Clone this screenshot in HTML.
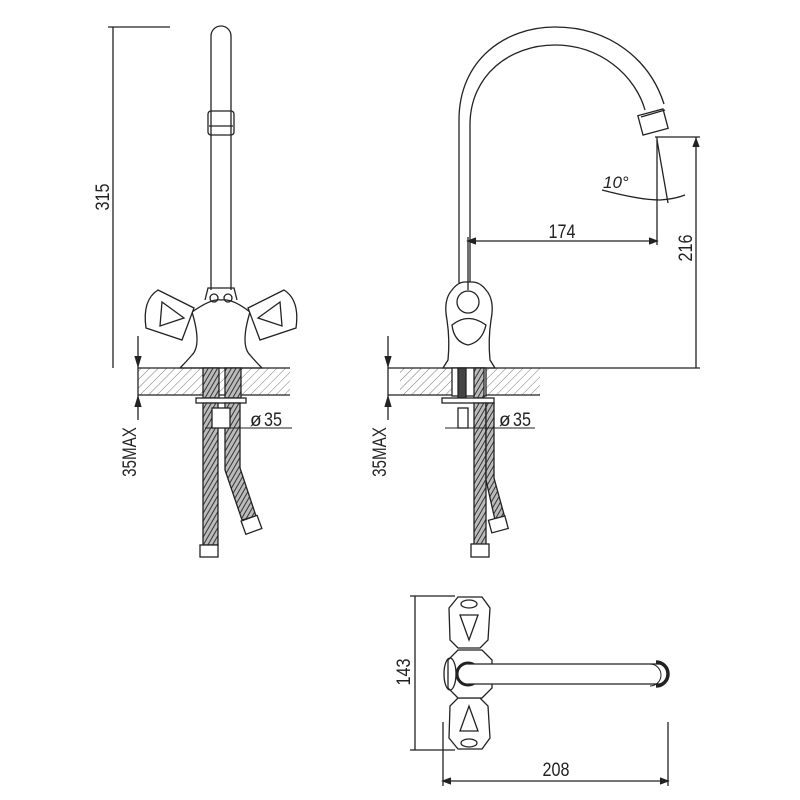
<!DOCTYPE html>
<html><head><meta charset="utf-8"><style>html,body{margin:0;padding:0;background:#fff}svg{display:block}text{font-family:"Liberation Sans",sans-serif;fill:#222}</style></head><body>
<svg width="800" height="800" viewBox="0 0 800 800" xmlns="http://www.w3.org/2000/svg">
<defs>
<pattern id="h" patternUnits="userSpaceOnUse" width="6" height="6" patternTransform="rotate(45)"><line x1="0" y1="0" x2="0" y2="6" stroke="#777" stroke-width="1"/></pattern>
<pattern id="braid" patternUnits="userSpaceOnUse" width="4" height="4" patternTransform="rotate(30)"><rect width="4" height="4" fill="#bbb"/><line x1="0" y1="0" x2="0" y2="4" stroke="#333" stroke-width="2"/></pattern>
</defs>
<g fill="none" stroke="#222" stroke-width="1.3">
<!-- LEFT VIEW -->
<line x1="108" y1="27" x2="170" y2="27"/>
<line x1="113" y1="27" x2="113" y2="368"/>
<path d="M211 290 V36 A10 10 0 0 1 231 36 V290"/>
<rect x="208" y="111" width="26" height="24" rx="3"/>
<line x1="209" y1="126" x2="233" y2="126"/>
<path d="M205 300 L208 288 H234 L237 300"/>
<path d="M192 312 Q212 298 221 300 Q232 298 250 312 Q240 345 250 355 Q256 362 262 368 H180 Q186 362 192 355 Q202 345 192 312Z" fill="#fff"/>
<path d="M158 290 L194 308 L182 340 L146 328 Q142 300 158 290Z" fill="#fff"/>
<path d="M162 302 L184 318 L160 326 Z"/>
<path d="M284 290 L248 308 L260 340 L296 328 Q300 300 284 290Z" fill="#fff"/>
<path d="M280 302 L258 318 L282 326 Z"/>
<circle cx="214" cy="298" r="4"/><circle cx="228" cy="298" r="4"/>
<rect x="138" y="368" width="152" height="27" fill="url(#h)" stroke="none"/>
<line x1="138" y1="368" x2="290" y2="368"/>
<line x1="138" y1="395" x2="290" y2="395"/>
<line x1="138" y1="336" x2="138" y2="420"/>
<path d="M135 356 L138 366 L141 356" fill="#222"/>
<path d="M135 407 L138 397 L141 407" fill="#222"/>
<rect x="203" y="368" width="16" height="30" fill="url(#braid)"/>
<rect x="225" y="368" width="16" height="30" fill="url(#braid)"/>
<rect x="196" y="398" width="50" height="5" fill="#fff"/>
<path d="M203 403 V545 H218 V403Z" fill="url(#braid)"/>
<path d="M225 403 V470 L242 520 L256 516 L240 468 V403Z" fill="url(#braid)"/>
<rect x="200" y="545" width="18" height="12" fill="#fff"/>
<rect x="243" y="518" width="17" height="14" transform="rotate(-20 251 525)" fill="#fff"/>
<rect x="212" y="408" width="18" height="20" fill="#fff"/>
<line x1="205" y1="428" x2="292" y2="428" stroke-width="1"/>
<!-- RIGHT VIEW -->
<path d="M459 290 V120 C459 60 505 27 555 27 C610 27 650 60 664 104"/>
<path d="M470 290 V125 C470 75 510 45 555 45 C600 45 635 75 645 110"/>
<rect x="640" y="112" width="26" height="20" transform="rotate(-15 653 122)" fill="#fff"/>
<line x1="641" y1="117" x2="665" y2="110"/>
<path d="M448 360 Q450 340 447 320 Q443 300 452 290 Q458 282 465 282 H472 Q480 282 486 290 Q495 300 491 320 Q488 340 490 360 L495 368 H443 Z" fill="#fff"/>
<circle cx="468" cy="302" r="11"/>
<path d="M452 325 Q468 312 486 325 Q482 342 468 345 Q454 342 452 325Z"/>
<rect x="400" y="368" width="140" height="27" fill="url(#h)" stroke="none"/>
<line x1="388" y1="368" x2="700" y2="368"/>
<line x1="388" y1="395" x2="540" y2="395"/>
<line x1="388" y1="336" x2="388" y2="420"/>
<path d="M385 356 L388 366 L391 356" fill="#222"/>
<path d="M385 407 L388 397 L391 407" fill="#222"/>
<rect x="452" y="368" width="34" height="28" fill="#fff"/>
<rect x="458" y="368" width="8" height="32" fill="#444"/>
<rect x="474" y="368" width="10" height="30" fill="url(#braid)"/>
<rect x="442" y="398" width="52" height="5" fill="#fff"/>
<rect x="458" y="408" width="10" height="20" fill="#fff"/>
<path d="M474 403 V545 H486 V403Z" fill="url(#braid)"/>
<path d="M486 403 V480 L495 520 L505 518 L494 478 V403Z" fill="url(#braid)"/>
<rect x="471" y="544" width="18" height="13" fill="#fff"/>
<rect x="490" y="518" width="17" height="13" transform="rotate(-15 498 525)" fill="#fff"/>
<line x1="445" y1="428" x2="535" y2="428" stroke-width="1"/>
<line x1="655" y1="137" x2="700" y2="137"/>
<line x1="696" y1="137" x2="696" y2="368"/>
<path d="M693 147 L696 139 L699 147" fill="#222"/>
<line x1="657" y1="137" x2="657" y2="245"/>
<line x1="657" y1="140" x2="668" y2="203"/>
<line x1="468" y1="237" x2="468" y2="290"/>
<line x1="468" y1="241" x2="657" y2="241"/>
<path d="M476 238 L468 241 L476 244" fill="#222"/>
<path d="M649 238 L657 241 L649 244" fill="#222"/>
<path d="M602 190 Q640 200 660 200 Q675 199 685 195"/>
<!-- BOTTOM VIEW -->
<line x1="410" y1="596" x2="455" y2="596"/>
<line x1="410" y1="750" x2="455" y2="750"/>
<line x1="415" y1="596" x2="415" y2="750"/>
<line x1="443" y1="722" x2="443" y2="786"/>
<line x1="668" y1="722" x2="668" y2="786"/>
<line x1="443" y1="781" x2="668" y2="781"/>
<path d="M451 778 L443 781 L451 784" fill="#222"/>
<path d="M660 778 L668 781 L660 784" fill="#222"/>
<path d="M449 608 L458 597 H482 L490 608 L488 640 L480 648 H458 L450 640Z" fill="#fff"/>
<ellipse cx="469" cy="604" rx="8" ry="4"/>
<path d="M460 615 L478 615 L469 640Z"/>
<path d="M449 738 L458 749 H482 L490 738 L488 706 L480 698 H458 L450 706Z" fill="#fff"/>
<ellipse cx="469" cy="743" rx="8" ry="4"/>
<path d="M460 731 L478 731 L469 706Z"/>
<path d="M448 660 L458 650 H482 L492 660 V688 L482 698 H458 L448 688Z" fill="#fff"/>
<ellipse cx="450" cy="674" rx="6" ry="16"/>
<circle cx="468" cy="674" r="11" stroke-width="3"/>
<path d="M468 664 H658 A10 10 0 0 1 658 684 H468" fill="#fff"/>
<path d="M650 664 A11 11 0 0 1 650 686" stroke-width="1"/>
<path d="M656 662 A12 12 0 0 1 656 686" stroke-width="3.5"/>
</g>
<g font-size="19">
<text transform="translate(109 197) rotate(-90) scale(0.85 1)" text-anchor="middle">315</text>
<text transform="translate(136 452) rotate(-90) scale(0.8 1)" text-anchor="middle">35MAX</text>
<text transform="translate(386 452) rotate(-90) scale(0.8 1)" text-anchor="middle">35MAX</text>
<text x="250" y="426">ø</text>
<text transform="translate(264 426) scale(0.85 1)">35</text>
<text x="499" y="426">ø</text>
<text transform="translate(513 426) scale(0.85 1)">35</text>
<text transform="translate(562 238) scale(0.85 1)" text-anchor="middle">174</text>
<text transform="translate(692 248) rotate(-90) scale(0.85 1)" text-anchor="middle">216</text>
<text transform="translate(410 672) rotate(-90) scale(0.85 1)" text-anchor="middle">143</text>
<text transform="translate(556 776) scale(0.85 1)" text-anchor="middle">208</text>
<text x="603" y="188" font-style="italic" font-size="17">10°</text>
</g>
</svg>
</body></html>
